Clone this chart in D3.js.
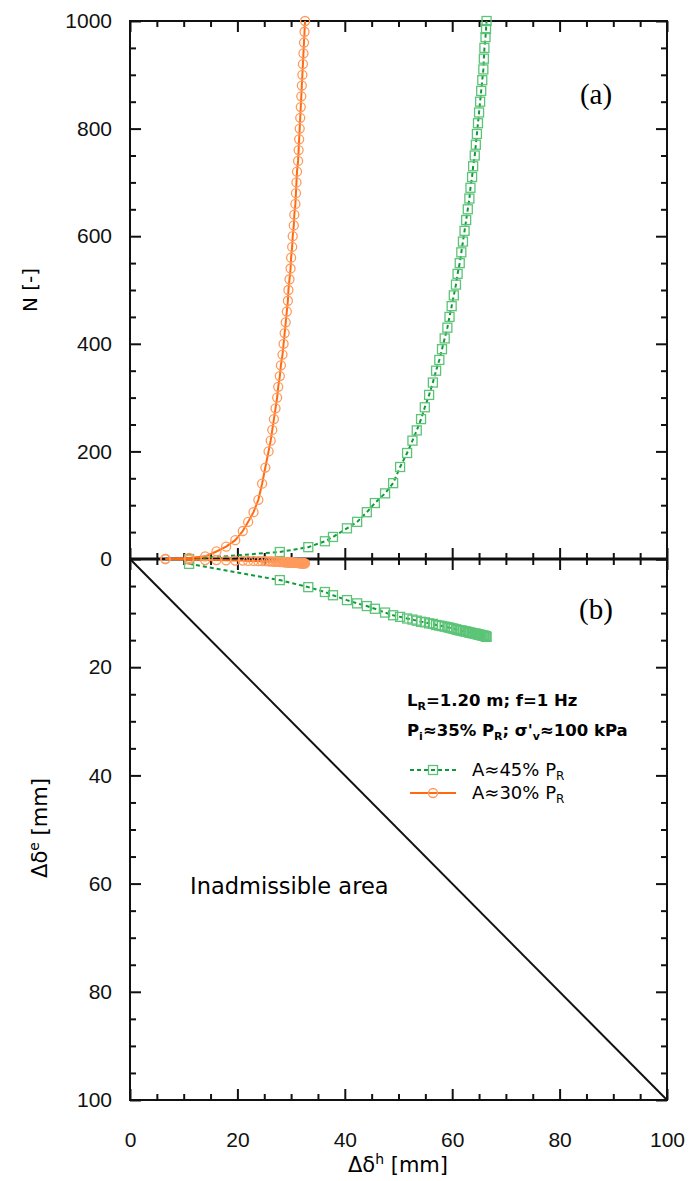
<!DOCTYPE html>
<html>
<head>
<meta charset="utf-8">
<script src="https://cdn.jsdelivr.net/npm/d3@7"></script>
<style>
body { margin: 0; background: #fff; }
</style>
</head>
<body>
<div id="chart"></div>
<script>
// series A≈45% PR (green): cycles N, horizontal and vertical displacement [mm]
const greenN  = [0, 13, 22, 33, 41, 57, 69, 87, 104, 122, 141, 171, 197, 220, 239, 260, 282, 305, 328, 350, 370, 390, 410, 430, 450, 470, 490, 510, 530, 550, 570, 590, 610, 630, 650, 670, 690, 710, 730, 750, 770, 790, 810, 830, 850, 870, 890, 910, 930, 950, 970, 985, 1000];
const greenDh = [11.0, 27.9, 33.2, 36.3, 37.8, 40.4, 42.3, 44.1, 45.6, 47.5, 49.0, 50.3, 51.6, 52.6, 53.4, 54.2, 54.9, 55.7, 56.4, 57.0, 57.6, 58.1, 58.6, 59.1, 59.5, 59.9, 60.3, 60.7, 61.0, 61.4, 61.7, 62.0, 62.3, 62.6, 62.9, 63.2, 63.4, 63.7, 63.9, 64.2, 64.4, 64.6, 64.8, 65.0, 65.2, 65.4, 65.6, 65.8, 65.9, 66.0, 66.2, 66.3, 66.4];
const greenDe = [0.9, 3.9, 5.2, 6.1, 6.7, 7.6, 8.2, 8.7, 9.2, 9.9, 10.4, 10.7, 11.0, 11.2, 11.4, 11.6, 11.7, 11.9, 12.0, 12.2, 12.3, 12.4, 12.5, 12.6, 12.7, 12.8, 12.9, 13.0, 13.1, 13.2, 13.2, 13.3, 13.4, 13.4, 13.5, 13.6, 13.6, 13.7, 13.7, 13.8, 13.8, 13.9, 13.9, 14.0, 14.0, 14.1, 14.1, 14.2, 14.2, 14.2, 14.3, 14.3, 14.4];

// series A≈30% PR (orange)
const orangeN  = [0, 2, 5, 14, 23, 35, 52, 69, 87, 110, 140, 170, 200, 220, 240, 260, 280, 300, 320, 340, 360, 380, 400, 420, 440, 460, 480, 500, 520, 540, 560, 580, 600, 620, 640, 660, 680, 700, 720, 740, 760, 780, 800, 820, 840, 860, 880, 900, 920, 940, 960, 980, 1000];
const orangeDh = [6.6, 11.0, 14.0, 16.1, 17.9, 19.6, 21.0, 22.0, 23.0, 23.9, 24.6, 25.2, 25.8, 26.2, 26.5, 26.8, 27.1, 27.4, 27.6, 27.9, 28.1, 28.4, 28.6, 28.8, 29.0, 29.2, 29.4, 29.5, 29.7, 29.9, 30.0, 30.2, 30.3, 30.5, 30.6, 30.8, 30.9, 31.0, 31.1, 31.3, 31.4, 31.5, 31.6, 31.7, 31.8, 31.9, 32.0, 32.1, 32.2, 32.3, 32.4, 32.5, 32.6];
const orangeDe = [0.0, 0.1, 0.2, 0.2, 0.25, 0.3, 0.3, 0.35, 0.35, 0.4, 0.4, 0.4, 0.45, 0.45, 0.45, 0.5, 0.5, 0.5, 0.5, 0.55, 0.55, 0.55, 0.55, 0.6, 0.6, 0.6, 0.6, 0.6, 0.65, 0.65, 0.65, 0.65, 0.65, 0.7, 0.7, 0.7, 0.7, 0.7, 0.7, 0.75, 0.75, 0.75, 0.75, 0.75, 0.75, 0.8, 0.8, 0.8, 0.8, 0.8, 0.8, 0.8, 0.8];

const inadmissible = [[0, 0], [100, 100]];

const xTicks = d3.range(0, 101, 20);
const nTicks = d3.range(0, 1001, 200);
const deTicks = d3.range(0, 101, 20);

const W = 692, H = 1181;
const pLeft = 130, pRight = 667, pTop = 21, pMid = 559, pBottom = 1100;
const SANS = "'Liberation Sans', Arial, sans-serif";
const WIDE = "'DejaVu Sans', Verdana, sans-serif";
const SERIF = "'Liberation Serif', 'Times New Roman', serif";

const svg = d3.select("#chart").append("svg")
    .attr("width", W).attr("height", H);

const x = d3.scaleLinear().domain([0, 100]).range([pLeft, pRight]);
const yN = d3.scaleLinear().domain([0, 1000]).range([pMid, pTop]);
const yE = d3.scaleLinear().domain([0, 100]).range([pMid, pBottom]);

const green = "#0f9a3a", greenLight = "#5cc477";
const orange = "#ff6a10", orangeLight = "#ff9a5c";

// axes with inward ticks
function drawAxis(axisFn, scale, tf, major, minor, majLen, minLen, labels) {
  const gMin = svg.append("g").attr("transform", tf)
    .call(axisFn(scale).tickValues(minor).tickSizeInner(minLen).tickSizeOuter(0).tickFormat(""));
  gMin.select(".domain").remove();
  const g = svg.append("g").attr("transform", tf)
    .call(axisFn(scale).tickValues(major).tickSizeInner(majLen).tickSizeOuter(0)
      .tickFormat(labels ? d3.format("d") : ""));
  g.select(".domain").remove();
  svg.selectAll(".tick line").attr("stroke", "#111").attr("stroke-width", 2);
  return g;
}

const minorX = d3.range(0, 101, 5).filter(d => d % 20);
// top edge
drawAxis(d3.axisBottom, x, `translate(0,${pTop})`, xTicks, minorX, 11, 6, false);
// bottom edge
const gxb = drawAxis(d3.axisTop, x, `translate(0,${pBottom})`, xTicks, minorX, 11, 6, true);
gxb.selectAll("text").attr("y", 40).attr("dy", "0.32em");
// middle line: ticks both ways
drawAxis(d3.axisBottom, x, `translate(0,${pMid})`, xTicks, minorX, 11, 6, false);
drawAxis(d3.axisTop, x, `translate(0,${pMid})`, xTicks, minorX, 11, 6, false);

const minorN = d3.range(0, 1001, 50).filter(d => d % 200);
const gyn = drawAxis(d3.axisRight, yN, `translate(${pLeft},0)`, nTicks, minorN, 11, 6, true);
gyn.selectAll("text").attr("x", -18).attr("text-anchor", "end");
drawAxis(d3.axisLeft, yN, `translate(${pRight},0)`, nTicks, minorN, 11, 6, false);

const minorE = d3.range(0, 101, 5).filter(d => d % 20);
const gye = drawAxis(d3.axisRight, yE, `translate(${pLeft},0)`, deTicks.filter(d => d > 0), minorE, 11, 6, true);
gye.selectAll("text").attr("x", -18).attr("text-anchor", "end");
drawAxis(d3.axisLeft, yE, `translate(${pRight},0)`, deTicks, minorE, 11, 6, false);

svg.selectAll(".tick text").attr("font-size", 21).attr("fill", "#111")
  .attr("font-family", SANS);

// frame
svg.append("rect").attr("x", pLeft).attr("y", pTop)
  .attr("width", pRight - pLeft).attr("height", pBottom - pTop)
  .attr("fill", "none").attr("stroke", "#111").attr("stroke-width", 2);
svg.append("line").attr("x1", pLeft).attr("x2", pRight).attr("y1", pMid).attr("y2", pMid)
  .attr("stroke", "#111").attr("stroke-width", 3);

// inadmissible limit line
svg.append("path")
  .attr("d", d3.line().x(d => x(d[0])).y(d => yE(d[1]))(inadmissible))
  .attr("fill", "none").attr("stroke", "#111").attr("stroke-width", 2);

// series
function series(N, dh, de, col, light, dashed, shape) {
  const pts = N.map((n, i) => ({n, dh: dh[i], de: de[i]}));
  const lTop = d3.line().x(d => x(d.dh)).y(d => yN(d.n));
  const lBot = d3.line().x(d => x(d.dh)).y(d => yE(d.de));
  [lTop, lBot].forEach(l => {
    svg.append("path").attr("d", l(pts)).attr("fill", "none")
      .attr("stroke", col).attr("stroke-width", 2)
      .attr("stroke-dasharray", dashed ? "4,3" : null);
  });
  [d => yN(d.n), d => yE(d.de)].forEach(fy => {
    const g = svg.append("g");
    if (shape === "square") {
      g.selectAll("rect").data(pts).join("rect")
        .attr("x", d => x(d.dh) - 4.5).attr("y", d => fy(d) - 4.5)
        .attr("width", 9).attr("height", 9)
        .attr("fill", "none").attr("stroke", light).attr("stroke-width", 1.3);
    } else {
      g.selectAll("circle").data(pts).join("circle")
        .attr("cx", d => x(d.dh)).attr("cy", fy).attr("r", 4.5)
        .attr("fill", "none").attr("stroke", light).attr("stroke-width", 1.3);
    }
  });
}
series(greenN, greenDh, greenDe, green, greenLight, true, "square");
series(orangeN, orangeDh, orangeDe, orange, orangeLight, false, "circle");

// panel labels
svg.append("text").attr("x", 596).attr("y", 104).attr("text-anchor", "middle")
  .attr("font-family", SERIF).attr("font-size", 29).text("(a)");
svg.append("text").attr("x", 596).attr("y", 619).attr("text-anchor", "middle")
  .attr("font-family", SERIF).attr("font-size", 29).text("(b)");

// axis titles
svg.append("text").attr("transform", "translate(37,290) rotate(-90)")
  .attr("text-anchor", "middle").attr("font-family", WIDE).attr("font-size", 20).text("N [-]");
const ye = svg.append("text").attr("transform", "translate(47,828) rotate(-90)")
  .attr("text-anchor", "middle").attr("font-family", WIDE).attr("font-size", 21);
ye.append("tspan").text("Δδ");
ye.append("tspan").attr("font-size", 14).attr("dy", -8).text("e");
ye.append("tspan").attr("dy", 8).text(" [mm]");

const xl = svg.append("text").attr("x", 398).attr("y", 1172)
  .attr("text-anchor", "middle").attr("font-family", WIDE).attr("font-size", 21);
xl.append("tspan").text("Δδ");
xl.append("tspan").attr("font-size", 14).attr("dy", -8).text("h");
xl.append("tspan").attr("dy", 8).text(" [mm]");

svg.append("text").attr("x", 190).attr("y", 894).attr("font-family", WIDE)
  .attr("font-size", 22.5).text("Inadmissible area");

// test conditions
const t1 = svg.append("text").attr("x", 407).attr("y", 706).attr("font-family", WIDE)
  .attr("font-size", 16.5).attr("font-weight", "bold");
t1.append("tspan").text("L");
t1.append("tspan").attr("font-size", 11).attr("dy", 4).text("R");
t1.append("tspan").attr("dy", -4).text("=1.20 m; f=1 Hz");
const t2 = svg.append("text").attr("x", 407).attr("y", 736).attr("font-family", WIDE)
  .attr("font-size", 16.5).attr("font-weight", "bold");
t2.append("tspan").text("P");
t2.append("tspan").attr("font-size", 11).attr("dy", 4).text("i");
t2.append("tspan").attr("dy", -4).text("≈35% P");
t2.append("tspan").attr("font-size", 11).attr("dy", 4).text("R");
t2.append("tspan").attr("dy", -4).text("; σ'");
t2.append("tspan").attr("font-size", 11).attr("dy", 4).text("v");
t2.append("tspan").attr("dy", -4).text("≈100 kPa");

// legend
const legend = [
  {label: "A≈45% P", col: green, light: greenLight, dashed: true, shape: "square", y: 770},
  {label: "A≈30% P", col: orange, light: orangeLight, dashed: false, shape: "circle", y: 793}
];
legend.forEach(d => {
  svg.append("line").attr("x1", 410).attr("x2", 456).attr("y1", d.y).attr("y2", d.y)
    .attr("stroke", d.col).attr("stroke-width", 2).attr("stroke-dasharray", d.dashed ? "4,3" : null);
  if (d.shape === "square") {
    svg.append("rect").attr("x", 428.5).attr("y", d.y - 4.5).attr("width", 9).attr("height", 9)
      .attr("fill", "none").attr("stroke", d.light).attr("stroke-width", 1.3);
  } else {
    svg.append("circle").attr("cx", 433).attr("cy", d.y).attr("r", 4.5)
      .attr("fill", "none").attr("stroke", d.light).attr("stroke-width", 1.3);
  }
  const t = svg.append("text").attr("x", 472).attr("y", d.y + 6)
    .attr("font-family", WIDE).attr("font-size", 18);
  t.append("tspan").text(d.label);
  t.append("tspan").attr("font-size", 12).attr("dy", 4).text("R");
});
</script>
</body>
</html>
